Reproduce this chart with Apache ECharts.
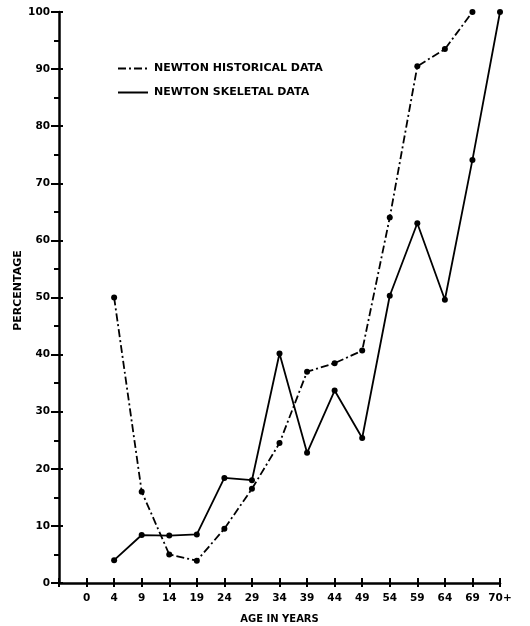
<!DOCTYPE html>
<html>
<head>
<meta charset="utf-8">
<script src="https://cdn.jsdelivr.net/npm/echarts@6/dist/echarts.min.js"></script>
<style>html,body{margin:0;padding:0;background:#fff}#c{width:530px;height:626px}</style>
</head>
<body>
<div id="c"></div>
<script>
// ---- data ----
var ageLabels = ["", "0", "4", "9", "14", "19", "24", "29", "34", "39", "44", "49", "54", "59", "64", "69", "70+"];
var historical = [null, null, 50, 16, 5, 3.9, 9.5, 16.5, 24.5, 37, 38.5, 40.7, 64, 90.5, 93.5, 100, null];
var skeletal = [null, null, 4, 8.4, 8.3, 8.5, 18.4, 18, 40.2, 22.8, 33.7, 25.4, 50.3, 63, 49.6, 74.1, 100];
var seriesNames = ["NEWTON HISTORICAL DATA", "NEWTON SKELETAL DATA"];
var yMin = 0, yMax = 100, yStep = 10;

var FONT = "DejaVu Sans";
var chart = echarts.init(document.getElementById('c'), null, {renderer: 'canvas'});
var lbl = {color: '#000', fontFamily: FONT, fontWeight: 'bold'};

chart.setOption({
  animation: false,
  backgroundColor: '#fff',
  grid: {left: 59, right: 30, top: 12, bottom: 43, containLabel: false, outerBoundsMode: 'none'},
  legend: {
    orient: 'vertical', left: 112, top: 58,
    itemWidth: 30, itemHeight: 12, itemGap: 13,
    data: seriesNames,
    textStyle: {color: '#000', fontFamily: FONT, fontWeight: 'bold', fontSize: 11, padding: [0, 0, 0, 1]},
    itemStyle: {opacity: 0},
    selectedMode: false
  },
  xAxis: [{
    type: 'category', position: 'bottom', data: ageLabels, boundaryGap: false,
    axisLine: {lineStyle: {color: '#000', width: 2.5}},
    axisTick: {show: true, length: 4, interval: 0, lineStyle: {color: '#000', width: 2}},
    axisLabel: Object.assign({interval: 0, fontSize: 10.5, margin: 10}, lbl),
    splitLine: {show: false},
    name: 'AGE IN YEARS', nameLocation: 'middle', nameGap: 31,
    nameTextStyle: Object.assign({fontSize: 10}, lbl)
  }, {
    type: 'category', position: 'bottom', data: ageLabels, boundaryGap: false,
    axisLine: {show: false},
    axisTick: {show: true, inside: true, length: 5, interval: 0, lineStyle: {color: '#000', width: 2}},
    axisLabel: {show: false}, splitLine: {show: false}
  }],
  yAxis: [{
    type: 'value', min: yMin, max: yMax, interval: yStep, position: 'left',
    axisLine: {show: true, lineStyle: {color: '#000', width: 2.5}},
    axisTick: {show: true, length: 8, lineStyle: {color: '#000', width: 2}},
    minorTick: {show: true, splitNumber: 2, length: 5, lineStyle: {color: '#000', width: 2}},
    axisLabel: Object.assign({fontSize: 10.5, margin: 9}, lbl),
    splitLine: {show: false},
    name: 'PERCENTAGE', nameLocation: 'middle', nameGap: 35, nameRotate: 90, nameMoveOverlap: false,
    nameTextStyle: Object.assign({fontSize: 11, padding: [0, 0, 0, 14]}, lbl)
  }, {
    type: 'value', min: yMin, max: yMax, interval: yStep, position: 'left',
    axisLine: {show: false},
    axisTick: {show: true, inside: true, length: 4, lineStyle: {color: '#000', width: 2}},
    axisLabel: {show: false}, splitLine: {show: false}
  }],
  series: [{
    name: seriesNames[0], type: 'line', data: historical,
    xAxisIndex: 0, yAxisIndex: 0,
    symbol: 'circle', symbolSize: 6, showSymbol: true,
    itemStyle: {color: '#000'},
    lineStyle: {color: '#000', width: 1.8, type: [8, 3, 2, 3]},
    connectNulls: false
  }, {
    name: seriesNames[1], type: 'line', data: skeletal,
    xAxisIndex: 0, yAxisIndex: 0,
    symbol: 'circle', symbolSize: 6, showSymbol: true,
    itemStyle: {color: '#000'},
    lineStyle: {color: '#000', width: 1.8, type: 'solid'}
  }]
});
</script>
</body>
</html>
